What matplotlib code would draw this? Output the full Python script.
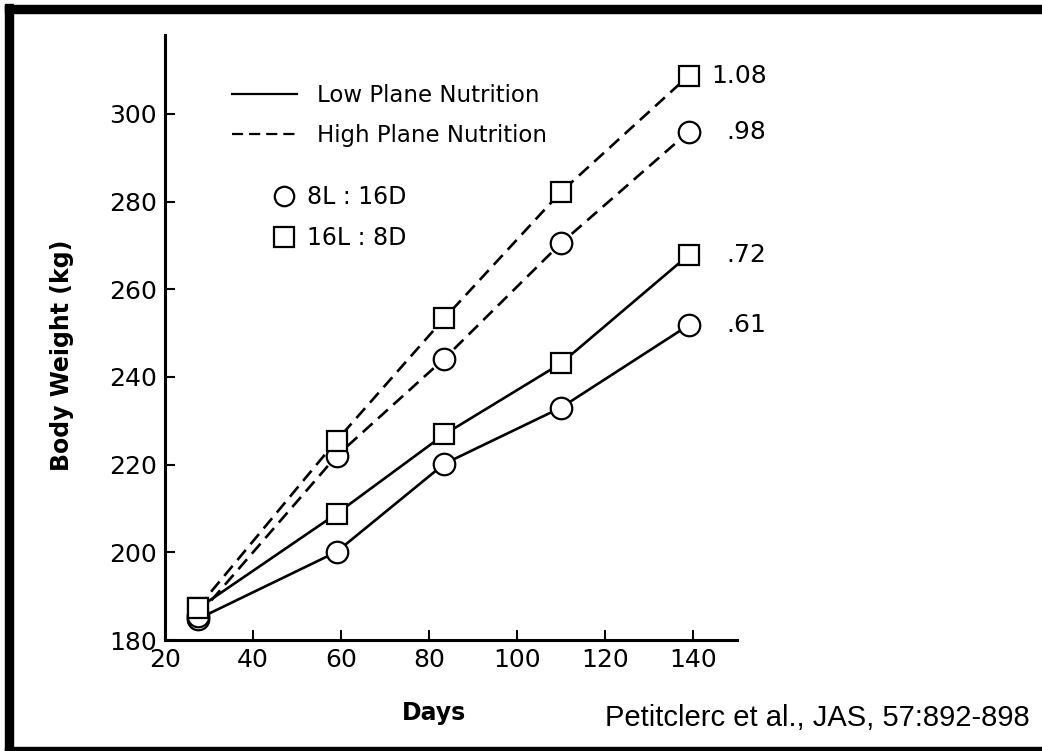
import matplotlib
matplotlib.use("Agg")
import matplotlib.pyplot as plt
from matplotlib.lines import Line2D
from matplotlib.patches import Rectangle

# ---- data ----
days = [27.5, 59, 83.5, 110, 139]
low_8L16D = [184.8, 200.1, 220.2, 233.0, 251.8]
low_16L8D = [187.2, 208.8, 226.9, 243.1, 267.8]
high_8L16D = [185.5, 222.0, 244.2, 270.5, 295.9]
high_16L8D = [187.4, 225.5, 253.4, 282.2, 308.7]
rates = ["1.08", ".98", ".72", ".61"]
xticks = [20, 40, 60, 80, 100, 120, 140]
yticks = [180, 200, 220, 240, 260, 280, 300]

fig = plt.figure(figsize=(10.42, 7.51), dpi=100)
ax = fig.add_axes([0.1583, 0.1478, 0.5490, 0.8056])

lw = 1.9
ms_c = 15.5
ms_s = 15
dash = (5, 2.8)

def plot_series(y, marker, ms, ls):
    kw = dict(color="black", lw=lw, marker=marker, ms=ms,
              mfc="white", mec="black", mew=1.6, zorder=3)
    if ls == "--":
        kw["dashes"] = dash
    ax.plot(days, y, ls, **kw)

plot_series(low_8L16D, "o", ms_c, "-")
plot_series(low_16L8D, "s", ms_s, "-")
plot_series(high_8L16D, "o", ms_c, "--")
plot_series(high_16L8D, "s", ms_s, "--")

# end labels
ends = [(high_16L8D[-1], 16), (high_8L16D[-1], 27), (low_16L8D[-1], 27), (low_8L16D[-1], 27)]
for lab, (yv, off) in zip(rates, ends):
    ax.annotate(lab, (days[-1], yv), xytext=(off, 0), textcoords="offset points",
                ha="left", va="center", fontsize=18)

ax.set_xlim(20, 150)
ax.set_ylim(180, 318)
ax.set_xticks(xticks)
ax.set_yticks(yticks)
for s in ["top", "right"]:
    ax.spines[s].set_visible(False)
for s in ["left", "bottom"]:
    ax.spines[s].set_linewidth(2.2)
ax.tick_params(direction="in", length=7, width=1.5, labelsize=18, pad=6)
ax.set_xlabel("Days", fontsize=17, fontweight="bold")
ax.xaxis.set_label_coords(0.47, -0.1)
ax.set_ylabel("Body Weight (kg)", fontsize=17, fontweight="bold")
ax.yaxis.set_label_coords(-0.159, 0.471)

# legends
h1 = [Line2D([], [], color="black", lw=1.6, ls="-"),
      Line2D([], [], color="black", lw=1.6, dashes=(5, 2.7))]
leg1 = ax.legend(h1, ["Low Plane Nutrition", "High Plane Nutrition"],
                 loc="upper left", bbox_to_anchor=(0.09, 0.946), frameon=False,
                 fontsize=16.5, handlelength=2.8, handletextpad=0.9, labelspacing=0.75,
                 borderaxespad=0.3)
ax.add_artist(leg1)
h2 = [Line2D([], [], ls="none", marker="o", ms=14, mfc="white", mec="black", mew=1.6),
      Line2D([], [], ls="none", marker="s", ms=14, mfc="white", mec="black", mew=1.6)]
ax.legend(h2, ["8L : 16D", "16L : 8D"], loc="upper left",
          bbox_to_anchor=(0.15, 0.787), frameon=False, fontsize=17,
          handlelength=1.0, handletextpad=0.5, labelspacing=0.72)

fig.text(0.988, 0.044, "Petitclerc et al., JAS, 57:892-898", ha="right", va="center",
         fontsize=21, family="Liberation Sans")

# frame
fig.patches.append(Rectangle((0.005, 0.0), 0.0075, 0.995, transform=fig.transFigure,
                             color="black", zorder=10))
fig.patches.append(Rectangle((0.005, 0.9827), 0.995, 0.0107, transform=fig.transFigure,
                             color="black", zorder=10))
fig.patches.append(Rectangle((0.005, 0.0), 0.995, 0.0053, transform=fig.transFigure,
                             color="black", zorder=10))

fig.savefig("out.png", dpi=100)
